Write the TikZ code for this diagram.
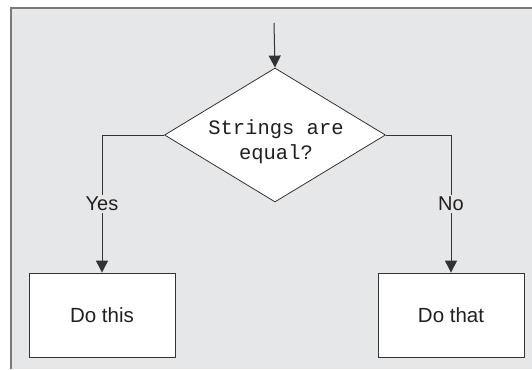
\documentclass[tikz,border=0pt]{standalone}
\usepackage{fontspec}
\setmainfont{Liberation Sans}
\newfontfamily\monofont{Liberation Mono}
\usetikzlibrary{shapes.geometric,arrows.meta}
\definecolor{bgc}{HTML}{E6E7E8}
\definecolor{framec}{HTML}{7A7A7A}
\definecolor{linec}{HTML}{333333}
\definecolor{txtc}{HTML}{231F20}
\tikzset{
  conn/.style={draw=linec, line width=1pt, -{Triangle[length=12pt,width=12pt]}},
  boxnode/.style={draw=linec, fill=white, line width=0.8pt, minimum width=146pt, minimum height=84pt, inner sep=0pt, font=\fontsize{20.5}{24}\selectfont, text=txtc},
  decnode/.style={diamond, draw=linec, fill=white, line width=0.8pt, minimum width=221pt, minimum height=134pt, aspect=1.65, inner sep=0pt},
  lbl/.style={fill=bgc, inner sep=2pt, font=\fontsize{20}{24}\selectfont, text=txtc}
}
\begin{document}
\begin{tikzpicture}[x=1pt,y=-1pt]
\useasboundingbox (0,0) rectangle (532,369);
\fill[white] (0,0) rectangle (532,369);
\fill[bgc] (11,8) rectangle (532,369);
\draw[framec, line width=1.2pt] (11,369) -- (11,8) -- (532,8);
\coordinate (start) at (274,23);
\node[decnode] (d) at (275,135) {};
\node[font=\monofont\fontsize{20.5}{25}\selectfont, text=txtc, align=center] (dt) at (276,142) {Strings are\\equal?};
\node[boxnode] (b1) at (102,315) {Do this};
\node[boxnode] (b2) at (451,315) {Do that};
\draw[conn] (start) -- (d.north);
\draw[conn] (d.west) -| node[lbl, pos=0.75] {Yes} (b1.north);
\draw[conn] (d.east) -| node[lbl, pos=0.75] {No} (b2.north);
\end{tikzpicture}
\end{document}
